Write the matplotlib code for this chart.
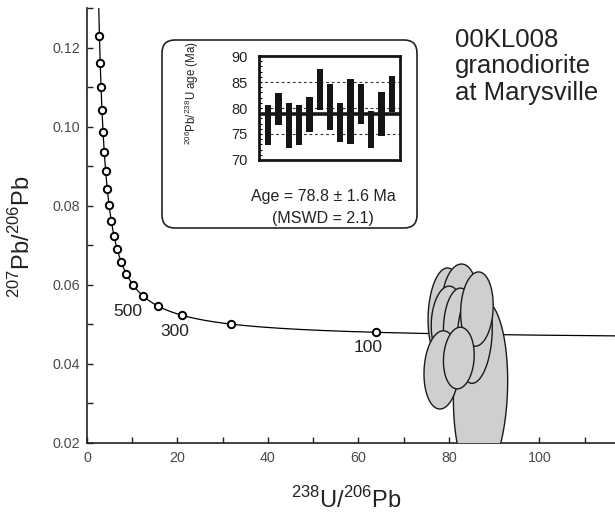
import numpy as np
import matplotlib
matplotlib.use("Agg")
import matplotlib.pyplot as plt
from matplotlib.patches import Polygon, FancyBboxPatch
from matplotlib.ticker import MultipleLocator

plt.rcParams['font.family'] = ['Liberation Sans', 'DejaVu Sans']
plt.rcParams['mathtext.fontset'] = 'custom'
plt.rcParams['mathtext.rm'] = 'Liberation Sans'

# concordia (decay constants, 1/yr) and marker ages (Ma)
L238 = 1.55125e-10
L235 = 9.8485e-10
U_RATIO = 137.88
marker_ages = [100, 200, 300, 400, 500, 600, 700, 800, 900, 1000,
               1100, 1200, 1300, 1400, 1500, 1600, 1700, 1800, 1900, 2000]
age_labels = ['500', '300', '100']
age_label_x = [9.1, 19.3, 62.2]
age_label_y = [0.0534, 0.0481, 0.0441]

# error ellipses: centre x, centre y, half-width x, half-height y, rho
ell_x = [87.0, 79.3, 82.4, 79.7, 82.2, 85.7, 86.2, 78.4, 82.2]
ell_y = [0.0334, 0.0524, 0.0562, 0.0506, 0.0496, 0.0473, 0.0539, 0.0385, 0.0415]
ell_sx = [6.0, 3.9, 3.9, 3.6, 3.4, 3.9, 3.6, 3.9, 3.4]
ell_sy = [0.0228, 0.0119, 0.0091, 0.0091, 0.0096, 0.0122, 0.0094, 0.0099, 0.0078]
ell_rho = [0.1, 0.1, 0.1, 0.1, 0.1, 0.15, 0.1, 0.1, 0.1]

# inset: 206Pb/238U ages
spot_low = [72.8, 76.7, 72.3, 72.9, 75.3, 79.6, 75.8, 73.4, 73.1, 76.9, 72.3, 74.7, 79.2]
spot_high = [80.6, 82.8, 81.0, 80.5, 82.1, 87.5, 84.6, 81.0, 85.5, 84.6, 79.5, 83.0, 86.2]
mean_age = 78.8


def tw(t_ma):
    t = np.asarray(t_ma, dtype=float) * 1e6
    e8 = np.exp(L238 * t) - 1
    e5 = np.exp(L235 * t) - 1
    return 1 / e8, e5 / e8 / U_RATIO


W, H = 615, 514
fig = plt.figure(figsize=(W / 100, H / 100), dpi=100)
ax = fig.add_axes([87 / W, 1 - 443 / H, 1 - 87 / W + 0.002, (443 - 8) / H])

# concordia curve and age markers
cx, cy = tw(np.linspace(1, 2600, 3000))
ax.plot(cx, cy, color='black', lw=0.9, zorder=2)
mx, my = tw(marker_ages)
ax.plot(mx, my, 'o', ms=5.3, mfc='white', mec='black', mew=1.4, zorder=3)
for s, x, y in zip(age_labels, age_label_x, age_label_y):
    ax.text(x, y, s, fontsize=12.5, ha='center', va='center', color='#222222')

# ellipses
tt = np.linspace(0, 2 * np.pi, 200)
for x0, y0, sx, sy, r in zip(ell_x, ell_y, ell_sx, ell_sy, ell_rho):
    px = x0 + sx * np.cos(tt)
    py = y0 + sy * (r * np.cos(tt) + np.sqrt(1 - r ** 2) * np.sin(tt))
    ax.add_patch(Polygon(np.column_stack([px, py]), closed=True,
                         facecolor='#cfcfcf', edgecolor='#1a1a1a', lw=1.0, zorder=4))

ax.set_xlim(0, 117)
ax.set_ylim(0.02, 0.1301)
ax.xaxis.set_minor_locator(MultipleLocator(10))
ax.yaxis.set_minor_locator(MultipleLocator(0.01))
ax.set_xticks([0, 20, 40, 60, 80, 100])
ax.set_xticklabels(['0', '20', '40', '60', '80', '100'])
ax.set_yticks([0.02, 0.04, 0.06, 0.08, 0.10, 0.12])
ax.set_yticklabels(['0.02', '0.04', '0.06', '0.08', '0.10', '0.12'])
ax.tick_params(which='both', direction='in', length=4, width=1, color='#222222')
ax.tick_params(axis='x', pad=6)
ax.tick_params(axis='y', pad=5)
for lab in ax.get_xticklabels() + ax.get_yticklabels():
    lab.set_fontsize(10.3)
    lab.set_color('#4a4a4a')
for s in ['top', 'right']:
    ax.spines[s].set_visible(False)
for s in ['left', 'bottom']:
    ax.spines[s].set_linewidth(1.2)
    ax.spines[s].set_color('#222222')

fig.text(22 / W, 1 - 237 / H, r'$^{207}$Pb/$^{206}$Pb', rotation=90,
         fontsize=17, ha='center', va='center', color='#222222')
fig.text(346 / W, 1 - 508 / H, r'$^{238}$U/$^{206}$Pb',
         fontsize=17, ha='center', va='baseline', color='#222222')

for line, base in zip(['00KL008', 'granodiorite', 'at Marysville'], [47, 73, 100]):
    fig.text(455 / W, 1 - base / H, line, fontsize=18.5, ha='left',
             va='baseline', color='#222222')

# inset box
box = FancyBboxPatch((1.62, (H - 228) / 100), 2.55, 1.88,
                     boxstyle='round,pad=0,rounding_size=0.13',
                     transform=fig.dpi_scale_trans, facecolor='white',
                     edgecolor='#222222', lw=1.2, zorder=2)
fig.add_artist(box)

iax = fig.add_axes([259 / W, 1 - 160 / H, 141 / W, 104 / H], zorder=5)
pos = np.arange(1, len(spot_low) + 1)
iax.bar(pos, np.array(spot_high) - np.array(spot_low), bottom=spot_low,
        width=0.62, color='#151515', zorder=2)
iax.axhline(mean_age, color='#151515', lw=2.6, zorder=3)
for g in [75, 80, 85]:
    iax.axhline(g, color='#333333', lw=0.8, ls=(0, (2.5, 2.5)), zorder=1)
iax.set_xlim(0.1, 13.8)
iax.set_ylim(70, 90)
iax.set_xticks([])
iax.set_yticks([70, 75, 80, 85, 90])
iax.yaxis.set_minor_locator(MultipleLocator(1))
iax.tick_params(axis='y', which='both', direction='in', length=2.5, width=0.8,
                labelsize=10.5, pad=8, labelcolor='#222222')
for s in iax.spines.values():
    s.set_linewidth(2)
    s.set_color('#151515')

fig.text(192 / W, 1 - 93 / H, r'$^{206}$Pb/$^{238}$U age (Ma)', rotation=90,
         fontsize=8.3, ha='center', va='center', color='#222222', zorder=6)
fig.text(323 / W, 1 - 197 / H, 'Age = 78.8 ± 1.6 Ma', fontsize=11.5,
         ha='center', va='center', color='#222222', zorder=6)
fig.text(323 / W, 1 - 218 / H, '(MSWD = 2.1)', fontsize=11.5,
         ha='center', va='center', color='#222222', zorder=6)

fig.savefig('out.png', dpi=100)
